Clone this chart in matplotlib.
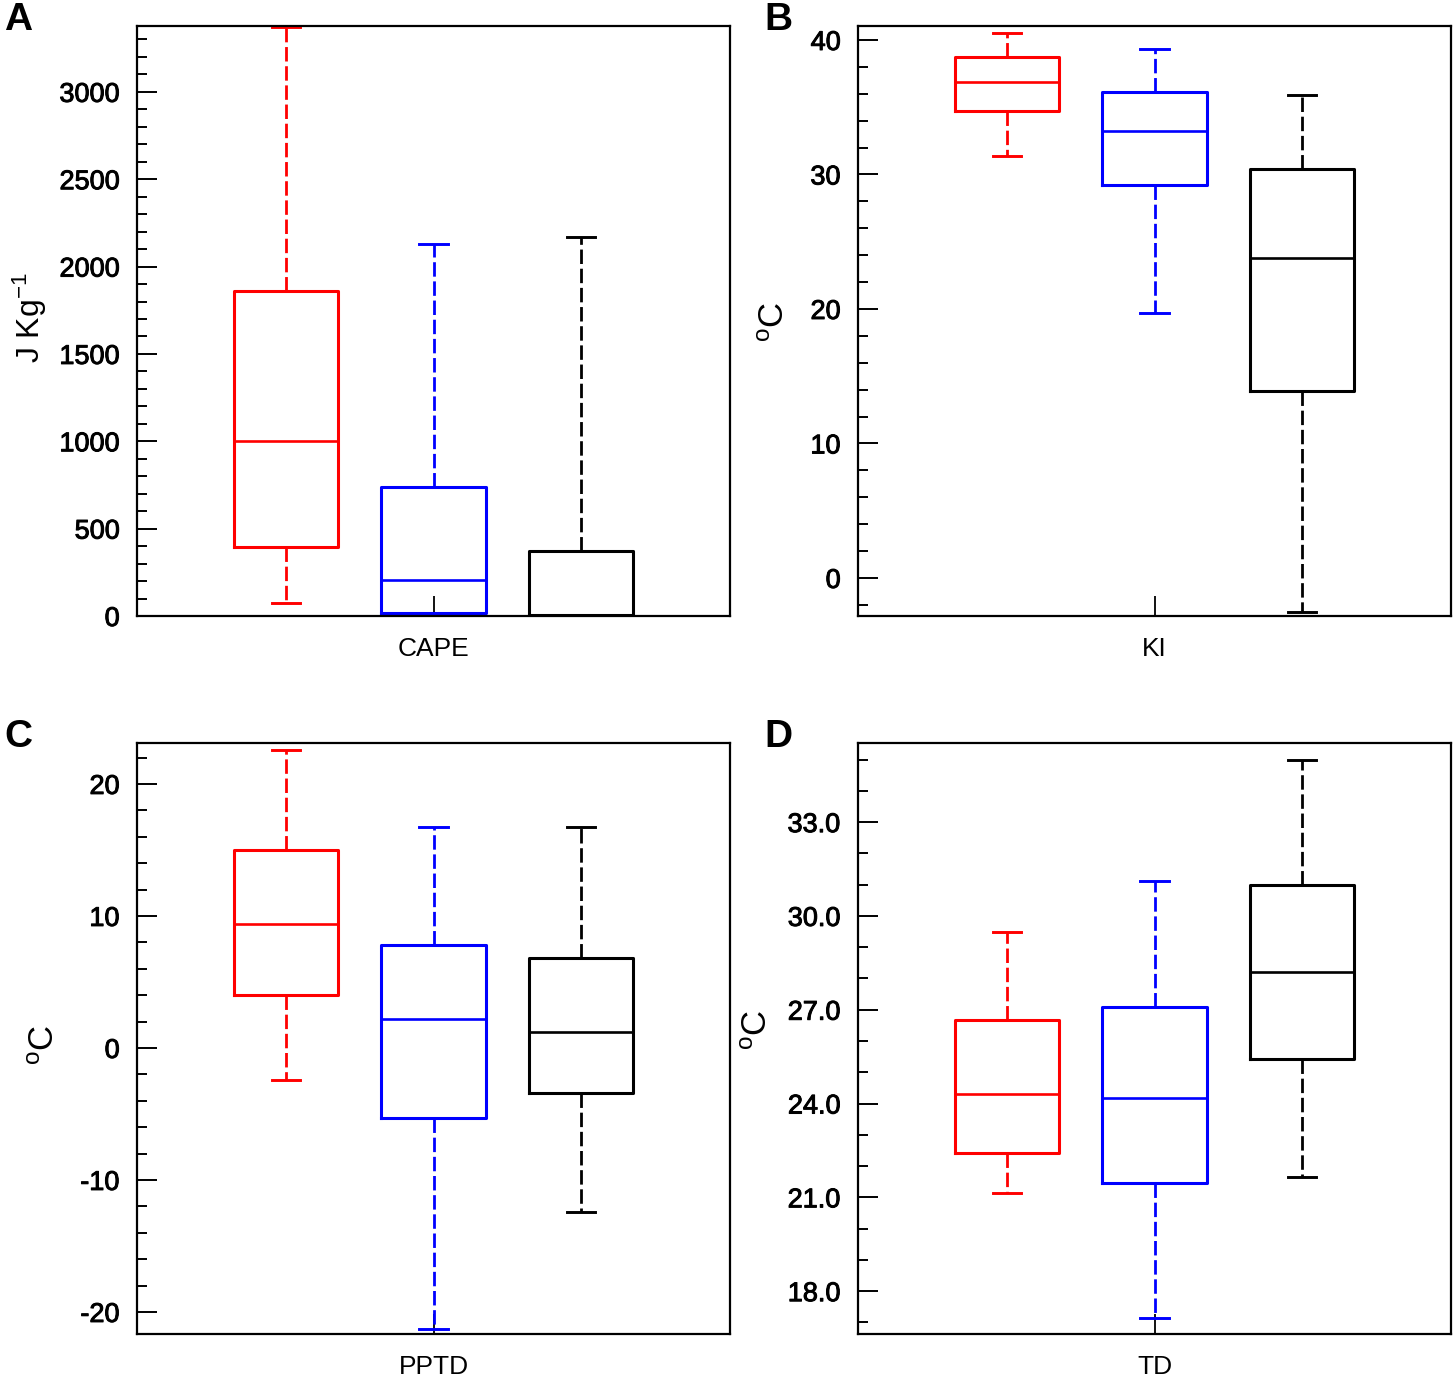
import matplotlib
matplotlib.use('Agg')
import matplotlib.pyplot as plt
import matplotlib.patheffects as pe
from matplotlib.ticker import MultipleLocator, FormatStrFormatter

plt.rcParams['font.family'] = ['Liberation Sans', 'DejaVu Sans']
plt.rcParams['mathtext.fontset'] = 'custom'
plt.rcParams['mathtext.rm'] = 'Liberation Sans'
plt.rcParams['mathtext.it'] = 'Liberation Sans'

# ---- data (whisker low, Q1, median, Q3, whisker high) for red, blue, black groups ----
colors = ['#ff0000', '#0000ff', '#000000']

cape_lo = [74, 0, 0]
cape_q1 = [395, 17, 5]
cape_med = [1002, 206, 5]
cape_q3 = [1861, 739, 372]
cape_hi = [3372, 2130, 2170]

ki_lo = [31.4, 19.7, -2.5]
ki_q1 = [34.7, 29.2, 13.9]
ki_med = [36.9, 33.2, 23.8]
ki_q3 = [38.7, 36.1, 30.4]
ki_hi = [40.5, 39.3, 35.9]

pptd_lo = [-2.4, -21.3, -12.4]
pptd_q1 = [4.0, -5.3, -3.4]
pptd_med = [9.4, 2.2, 1.2]
pptd_q3 = [15.0, 7.8, 6.8]
pptd_hi = [22.6, 16.7, 16.7]

td_lo = [21.15, 17.13, 21.66]
td_q1 = [22.43, 21.47, 25.43]
td_med = [24.32, 24.19, 28.21]
td_q3 = [26.68, 27.1, 30.99]
td_hi = [29.49, 31.12, 35.0]

panel_letters = ['A', 'B', 'C', 'D']
xlabels = ['CAPE', 'KI', 'PPTD', 'TD']
ylabels = ['J Kg$^{-1}$', '$^{\\mathrm{o}}$C', '$^{\\mathrm{o}}$C', '$^{\\mathrm{o}}$C']

W, H = 1456, 1378
fig = plt.figure(figsize=(W / 100, H / 100), dpi=100)

def px_axes(left, right, top, bottom):
    return fig.add_axes([left / W, 1 - bottom / H, (right - left) / W, (bottom - top) / H])

axes = [
    px_axes(137, 730, 26, 616),
    px_axes(858, 1451, 26, 616),
    px_axes(137, 730, 743, 1334),
    px_axes(858, 1451, 743, 1334),
]

datasets = [
    (cape_lo, cape_q1, cape_med, cape_q3, cape_hi),
    (ki_lo, ki_q1, ki_med, ki_q3, ki_hi),
    (pptd_lo, pptd_q1, pptd_med, pptd_q3, pptd_hi),
    (td_lo, td_q1, td_med, td_q3, td_hi),
]

ylims = [(0, 3377), (-2.83, 41.04), (-21.67, 23.1), (16.63, 35.53)]
major = [500, 10, 10, 3]
minor = [100, 2, 2, 1]
fmts = ['%d', '%d', '%d', '%.1f']
ylab_pos = [(30, 318), (775, 322), (45, 1045), (757, 1030)]
ylab_size = [23, 25, 25, 25]
letter_pos = [(4, 2), (764, 2), (4, 719), (764, 719)]

tick_fx = [pe.withStroke(linewidth=0.7, foreground='black')]

positions = [1, 2, 3]
for i, ax in enumerate(axes):
    lo, q1, med, q3, hi = datasets[i]
    for j in range(3):
        stats = [dict(whislo=lo[j], q1=q1[j], med=med[j], q3=q3[j], whishi=hi[j], fliers=[])]
        c = colors[j]
        ax.bxp(stats, positions=[positions[j]], widths=0.71, capwidths=0.19,
               showfliers=False,
               boxprops=dict(color=c, linewidth=2.2),
               medianprops=dict(color=c, linewidth=1.9),
               whiskerprops=dict(color=c, linewidth=2.0, linestyle=(0, (5.2, 1.7))),
               capprops=dict(color=c, linewidth=2.1),
               manage_ticks=False)
    ax.set_xlim(-0.01, 4.01)
    ax.set_ylim(*ylims[i])
    ax.set_xticks([2])
    ax.set_xticklabels([xlabels[i]], fontsize=19)
    ax.yaxis.set_major_locator(MultipleLocator(major[i]))
    ax.yaxis.set_minor_locator(MultipleLocator(minor[i]))
    ax.yaxis.set_major_formatter(FormatStrFormatter(fmts[i]))
    ax.tick_params(axis='y', which='major', direction='in', length=14.4, width=1.4,
                   labelsize=19.5, pad=12.5)
    ax.tick_params(axis='y', which='minor', direction='in', length=7.2, width=1.4)
    ax.tick_params(axis='x', which='major', direction='in', length=14.4, width=1.3, pad=15)
    ax.tick_params(axis='x', which='minor', bottom=False)
    for lab in ax.get_yticklabels():
        lab.set_path_effects(tick_fx)
    for s in ax.spines.values():
        s.set_linewidth(1.6)
    x, y = ylab_pos[i]
    fig.text(x / W, 1 - y / H, ylabels[i], rotation=90, ha='center', va='center',
             fontsize=ylab_size[i])
    lx, ly = letter_pos[i]
    fig.text(lx / W, 1 - ly / H, panel_letters[i], ha='left', va='top',
             fontsize=28, fontweight='bold')

fig.savefig('out.png', dpi=100)
